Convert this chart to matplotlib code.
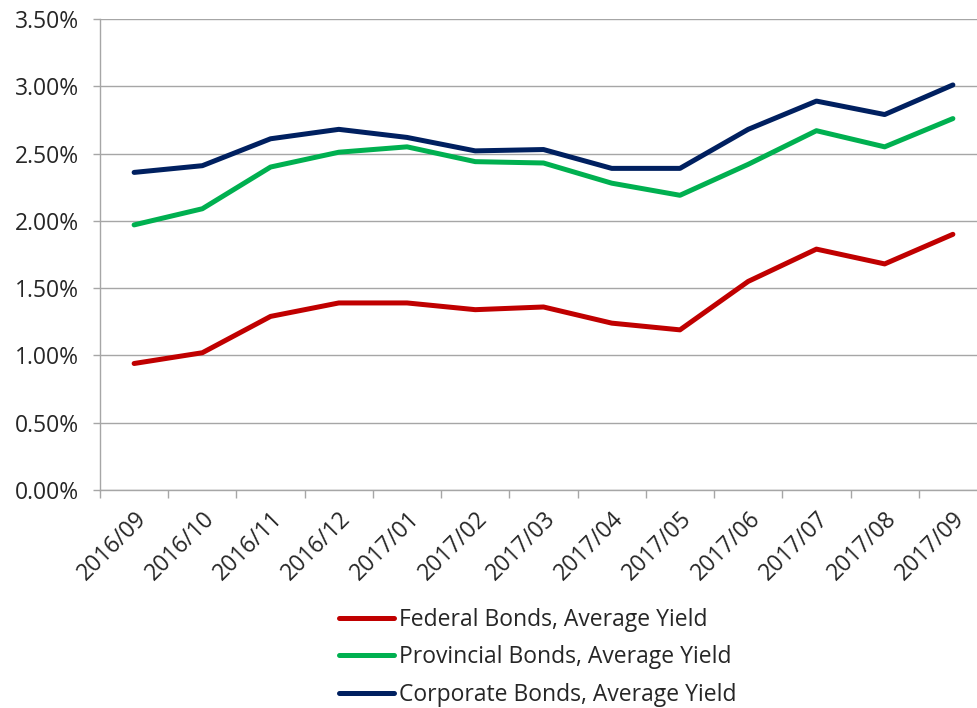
import matplotlib
matplotlib.use("Agg")
import matplotlib.pyplot as plt
import matplotlib.ticker as plticker
import numpy as np

months = ['2016/09', '2016/10', '2016/11', '2016/12', '2017/01', '2017/02', '2017/03',
          '2017/04', '2017/05', '2017/06', '2017/07', '2017/08', '2017/09']

# average yields, percent
federal = [0.94, 1.02, 1.29, 1.39, 1.39, 1.34, 1.36, 1.24, 1.19, 1.55, 1.79, 1.68, 1.90]
provincial = [1.97, 2.09, 2.40, 2.51, 2.55, 2.44, 2.43, 2.28, 2.19, 2.42, 2.67, 2.55, 2.76]
corporate = [2.36, 2.41, 2.61, 2.68, 2.62, 2.52, 2.53, 2.39, 2.39, 2.68, 2.89, 2.79, 3.01]

names = ['Federal Bonds, Average Yield',
         'Provincial Bonds, Average Yield',
         'Corporate Bonds, Average Yield']
colors = ['#C00000', '#00B050', '#002060']

plt.rcParams['font.family'] = ['Open Sans', 'DejaVu Sans']
fs = 16.5

W, H = 978, 708
fig = plt.figure(figsize=(W / 100, H / 100), dpi=100)
ax = fig.add_axes([100 / W, 1 - 490 / H, 887 / W, 471 / H])

x = np.arange(len(months))
for vals, name, c in zip([federal, provincial, corporate], names, colors):
    ax.plot(x, vals, color=c, lw=3.6, label=name, solid_capstyle='round',
            solid_joinstyle='round')

ax.set_xlim(-0.5, len(months) - 0.5)
ax.set_ylim(0, 3.5)
ax.yaxis.set_major_locator(plticker.MultipleLocator(0.5))
ax.yaxis.set_major_formatter(plticker.FuncFormatter(lambda v, p: '%.2f%%' % v))
ax.grid(axis='y', color='#A6A6A6', lw=1.0)
ax.set_axisbelow(True)

for s in ['top', 'right']:
    ax.spines[s].set_visible(False)
for s in ['left', 'bottom']:
    ax.spines[s].set_color('#A6A6A6')
    ax.spines[s].set_linewidth(1.0)

# category labels at centres, tick marks on the boundaries
ax.set_xticks(x)
ax.set_xticklabels(months, rotation=45, ha='right', rotation_mode='anchor')
ax.tick_params(axis='x', length=0, pad=12, labelsize=fs, labelcolor='#262626')
ax.set_xticks(np.arange(-0.5, len(months), 1), minor=True)
ax.tick_params(axis='x', which='minor', length=6, color='#A6A6A6', width=1.0)
ax.tick_params(axis='y', length=5, color='#A6A6A6', width=1.0, pad=10,
               labelsize=fs, labelcolor='#262626')

fig.legend(loc='upper left', bbox_to_anchor=(330 / W, 1 - 599 / H),
           frameon=False, fontsize=fs, handlelength=2.4, handletextpad=0.2,
           labelspacing=0.58, borderaxespad=0, labelcolor='#262626')

fig.savefig('out.png', dpi=100)
